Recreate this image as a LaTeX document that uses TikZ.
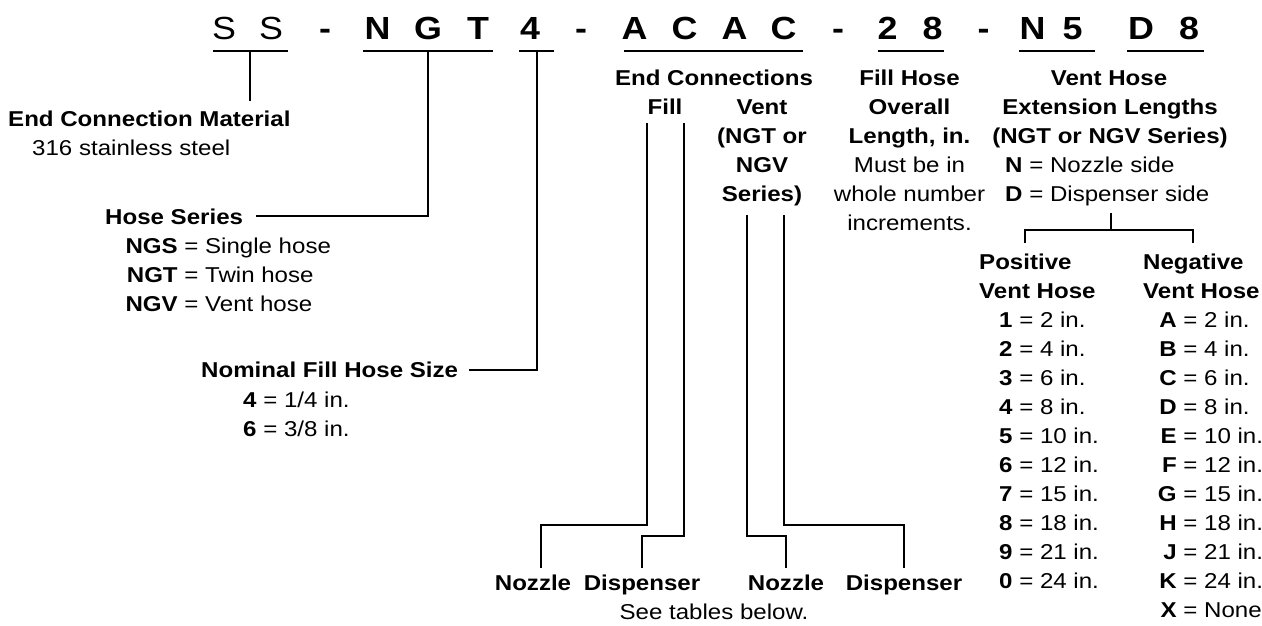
\documentclass[tikz,border=0pt]{standalone}
\usepackage{fontspec}
\setmainfont{Liberation Sans}[FakeStretch=1.12]
\begin{document}
\begin{tikzpicture}[x=1pt,y=-1pt,
  txt/.style={inner sep=0pt, anchor=base, font=\fontsize{21.5}{29}\selectfont},
  hd/.style={inner sep=0pt, anchor=base, font=\fontsize{21.5}{29}\selectfont\bfseries},
  codeb/.style={inner sep=0pt, anchor=base, font=\fontsize{32}{36}\selectfont\bfseries},
  coder/.style={inner sep=0pt, anchor=base, font=\fontsize{32}{36}\selectfont},
  ln/.style={line width=2.2pt}]
\useasboundingbox (0,0) rectangle (1262,625);

% ---- code row ----
\node[coder] (c1) at (224,39) {S};
\node[coder] (c2) at (271,39) {S};
\node[codeb] (d1) at (325,39) {-};
\node[codeb] (c3) at (377.5,39) {N};
\node[codeb] (c4) at (428,39) {G};
\node[codeb] (c5) at (478,39) {T};
\node[codeb] (c6) at (530,39) {4};
\node[codeb] (d2) at (581,39) {-};
\node[codeb] (c7) at (634.5,39) {A};
\node[codeb] (c8) at (684.5,39) {C};
\node[codeb] (c9) at (734.5,39) {A};
\node[codeb] (c10) at (783.5,39) {C};
\node[codeb] (d3) at (838,39) {-};
\node[codeb] (c11) at (887.5,39) {2};
\node[codeb] (c12) at (932.5,39) {8};
\node[codeb] (d4) at (983.5,39) {-};
\node[codeb] (c13) at (1032.5,39) {N};
\node[codeb] (c14) at (1072.5,39) {5};
\node[codeb] (c15) at (1141,39) {D};
\node[codeb] (c16) at (1189,39) {8};

\coordinate (ssL) at (213,51);  \coordinate (ssR) at (288,51);  \coordinate (ssM) at (250,51);
\coordinate (ngL) at (363,51);  \coordinate (ngR) at (493,51);  \coordinate (ngM) at (428,51);
\coordinate (szL) at (519,51);  \coordinate (szR) at (554,51);  \coordinate (szM) at (537,51);
\coordinate (acL) at (624,51);  \coordinate (acR) at (803,51);
\coordinate (lnL) at (878,51);  \coordinate (lnR) at (944,51);
\coordinate (nvL) at (1019,51); \coordinate (nvR) at (1095,51);
\coordinate (dvL) at (1127,51); \coordinate (dvR) at (1204,51);
\foreach \a/\b in {ssL/ssR,ngL/ngR,szL/szR,acL/acR,lnL/lnR,nvL/nvR,dvL/dvR}
  \draw[ln] (\a) -- (\b);

% ---- left labels ----
\node[hd,anchor=base west] (ecm) at (8,126.5) {End Connection Material};
\node[txt,anchor=base west] (ecm1) at (32,155) {316 stainless steel};

\node[hd,anchor=base west] (hs) at (105,224) {Hose Series};
\node[txt,anchor=base west] (hs1) at (125,253) {\makebox[52.5pt][r]{\textbf{NGS}} = Single hose};
\node[txt,anchor=base west] (hs2) at (125,282) {\makebox[52.5pt][r]{\textbf{NGT}} = Twin hose};
\node[txt,anchor=base west] (hs3) at (125,311) {\makebox[52.5pt][r]{\textbf{NGV}} = Vent hose};

\node[hd,anchor=base west] (nfs) at (201,377.5) {Nominal Fill Hose Size};
\node[txt,anchor=base west] (nfs1) at (243,407.5) {\textbf{4} = 1/4 in.};
\node[txt,anchor=base west] (nfs2) at (243,436.5) {\textbf{6} = 3/8 in.};

\coordinate (ecmT) at ([yshift=10pt]ecm.north);
\draw[ln] (ssM) -- (ssM |- ecmT);
\draw[ln] (ngM) |- ([xshift=13pt]hs.east);
\draw[ln] (szM) |- ([xshift=11pt]nfs.east);

% ---- end connections ----
\node[hd] (ec) at (714,85.5) {End Connections};
\node[hd] (fill) at (665,114.5) {Fill};
\node[hd] (vent) at (762,114.5) {Vent};
\node[hd] (vent2) at (762,143.5) {(NGT or};
\node[hd] (vent3) at (762,172.5) {NGV};
\node[hd] (vent4) at (762,201.5) {Series)};

\node[hd] (noz1) at (533,590.5) {Nozzle};
\node[hd] (dis1) at (642,590.5) {Dispenser};
\node[hd] (noz2) at (786,590.5) {Nozzle};
\node[hd] (dis2) at (904,590.5) {Dispenser};
\node[txt] (see) at (714,619.5) {See tables below.};

\coordinate (fa) at (647,123);
\coordinate (fb) at (684,123);
\coordinate (va) at (747,215);
\coordinate (vb) at (784,215);
\coordinate (hi) at (0,525);
\coordinate (lo) at (0,536);
\coordinate (noz1t) at ([xshift=8pt,yshift=7pt]noz1.north);
\coordinate (dis1t) at ([yshift=7pt]dis1.north);
\coordinate (noz2t) at ([yshift=7pt]noz2.north);
\coordinate (dis2t) at ([yshift=7pt]dis2.north);
\draw[ln] (fa) -- (fa |- hi) -| (noz1t);
\draw[ln] (fb) -- (fb |- lo) -| (dis1t);
\draw[ln] (va) -- (va |- lo) -| (noz2t);
\draw[ln] (vb) -- (vb |- hi) -| (dis2t);

% ---- fill hose length ----
\node[hd] (fh) at (909.5,85.5) {Fill Hose};
\node[hd] (fh2) at (909.5,114.5) {Overall};
\node[hd] (fh3) at (909.5,143.5) {Length, in.};
\node[txt] (fh4) at (909.5,172.5) {Must be in};
\node[txt] (fh5) at (909.5,201.5) {whole number};
\node[txt] (fh6) at (909.5,230.5) {increments.};

% ---- vent hose extension ----
\node[hd] (vh) at (1109,85.5) {Vent Hose};
\node[hd] (vh2) at (1110,114.5) {Extension Lengths};
\node[hd] (vh3) at (1110,143.5) {(NGT or NGV Series)};
\node[txt,anchor=base west] (vh4) at (1005,172.5) {\textbf{N} = Nozzle side};
\node[txt,anchor=base west] (vh5) at (1005,201.5) {\textbf{D} = Dispenser side};

\node[hd,anchor=base west] (posH) at (979,269.5) {Positive};
\node[hd,anchor=base west] (posH2) at (979,298.5) {Vent Hose};
\node[hd,anchor=base west] (negH) at (1143,269.5) {Negative};
\node[hd,anchor=base west] (negH2) at (1143,298.5) {Vent Hose};

\coordinate (brTop) at (1111,213);
\coordinate (brMid) at (1111,230);
\draw[ln] (brTop) -- (brMid);
\draw[ln] ([yshift=11pt]posH.north) |- (brMid) -| ([yshift=11pt]negH.north);

\foreach \d/\v [count=\i from 0] in {1/2,2/4,3/6,4/8,5/10,6/12,7/15,8/18,9/21,0/24}
  \node[txt,anchor=base west] (p\i) at (999,327.5+29*\i) {\textbf{\d} = \v\ in.};
\foreach \l/\v [count=\i from 0] in {A/2 in.,B/4 in.,C/6 in.,D/8 in.,E/10 in.,F/12 in.,G/15 in.,H/18 in.,J/21 in.,K/24 in.,X/None}
  \node[txt,anchor=base west] (n\i) at (1157,327.5+29*\i) {\makebox[19.5pt][r]{\textbf{\l}} = \v};
\end{tikzpicture}
\end{document}
